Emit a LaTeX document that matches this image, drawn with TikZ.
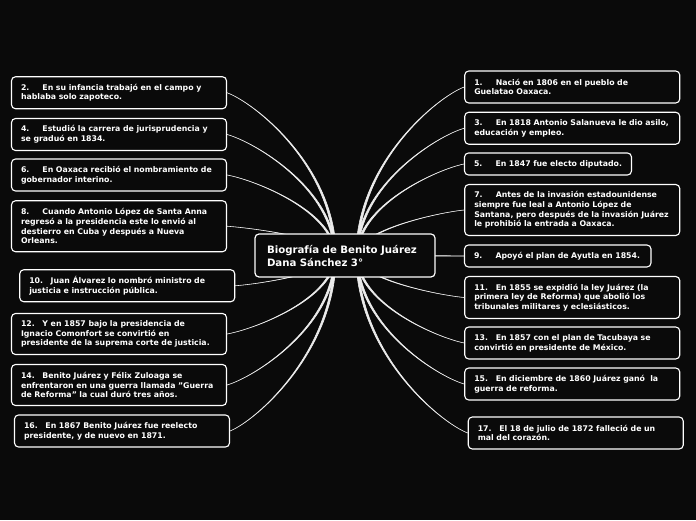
\documentclass[tikz,border=0pt]{standalone}
\usepackage{fontspec}
\setmainfont{DejaVu Sans}
\usepackage{xcolor}
\usepackage{tikz}
\usetikzlibrary{positioning}

\definecolor{bgblack}{HTML}{0A0A0A}
\definecolor{wiregray}{HTML}{EBEBEB}
\newcommand{\nro}[1]{\makebox[21.5pt][l]{#1}}

\tikzset{
	leaf/.style={draw=white, line width=1.1pt, fill=bgblack, rounded corners=4pt, text=white,
		font=\bfseries\fontsize{7.8}{9.7}\selectfont, align=left, inner xsep=9.5pt, inner ysep=0pt,
		text width=196pt, minimum height=32pt},
	title/.style={draw=white, line width=1.2pt, fill=bgblack, rounded corners=4pt, text=white,
		font=\bfseries\fontsize{10.2}{13}\selectfont, align=left, inner xsep=12pt, inner ysep=0pt,
		text width=156pt, minimum height=43pt},
	wire/.style={fill=wiregray, draw=wiregray, line width=0.6pt, line join=round}
}

\begin{document}
\begin{tikzpicture}[x=1pt, y=1pt]
	% Background:
	\fill[bgblack] (0, 0) rectangle (696, 520);
	\useasboundingbox (0, 0) rectangle (696, 520);
	% Left side:
	\node[leaf](N2) at (119, 427.25){\nro{2.}En su infancia trabajó en el campo y\\hablaba solo zapoteco.};
	\node[leaf](N4) at (119, 385.5){\nro{4.}Estudió la carrera de jurisprudencia y\\se graduó en 1834.};
	\node[leaf](N6) at (119, 345){\nro{6.}En Oaxaca recibió el nombramiento de\\gobernador interino.};
	\node[leaf, minimum height=51pt](N8) at (119, 293.75){\nro{8.}Cuando Antonio López de Santa Anna\\regresó a la presidencia este lo envió al\\destierro en Cuba y después a Nueva\\Orleans.};
	\node[leaf](N10) at (127.25, 234.25){\nro{10.}Juan Álvarez lo nombró ministro de\\justicia e instrucción pública.};
	\node[leaf, minimum height=41pt](N12) at (119, 186){\nro{12.}Y en 1857 bajo la presidencia de\\Ignacio Comonfort se convirtió en\\presidente de la suprema corte de justicia.};
	\node[leaf, minimum height=41pt](N14) at (119, 135){\nro{14.}Benito Juárez y Félix Zuloaga se\\enfrentaron en una guerra llamada "Guerra\\de Reforma" la cual duró tres años.};
	\node[leaf](N16) at (122, 89){\nro{16.}En 1867 Benito Juárez fue reelecto\\presidente, y de nuevo en 1871.};
	% Right side:
	\node[leaf](N1) at (572.25, 433){\nro{1.}Nació en 1806 en el pueblo de\\Guelatao Oaxaca.};
	\node[leaf](N3) at (572.25, 391.75){\nro{3.}En 1818 Antonio Salanueva le dio asilo,\\educación y empleo.};
	\node[leaf, text width=148pt, minimum height=22pt](N5) at (548, 356){\nro{5.}En 1847 fue electo diputado.};
	\node[leaf, minimum height=51pt](N7) at (572.25, 310){\nro{7.}Antes de la invasión estadounidense\\siempre fue leal a Antonio López de\\Santana, pero después de la invasión Juárez\\le prohibió la entrada a Oaxaca.};
	\node[leaf, text width=167.5pt, minimum height=22pt](N9) at (557.75, 264){\nro{9.}Apoyó el plan de Ayutla en 1854.};
	\node[leaf, minimum height=42pt](N11) at (572.25, 222.5){\nro{11.}En 1855 se expidió la ley Juárez (la\\primera ley de Reforma) que abolió los\\tribunales militares y eclesiásticos.};
	\node[leaf](N13) at (572.25, 177){\nro{13.}En 1857 con el plan de Tacubaya se\\convirtió en presidente de México.};
	\node[leaf](N15) at (572.25, 136){\nro{15.}En diciembre de 1860 Juárez ganó\ \ la\\guerra de reforma.};
	\node[leaf](N17) at (575.75, 87){\nro{17.}El 18 de julio de 1872 falleció de un\\mal del corazón.};
	% Wires (tapered):
	\coordinate (BL1) at (333.9, 264.5);
	\coordinate (BL2) at (336.1, 264.5);
	\coordinate (BR1) at (355.9, 264.5);
	\coordinate (BR2) at (358.1, 264.5);
	\filldraw[wire] (BL1) .. controls +(0, 89.5) and +(27, -9.8) .. (N2.east) .. controls +(27, -9.8) and +(0, 89.5) .. (BL2) -- cycle;
	\filldraw[wire] (BL1) .. controls +(0, 66.5) and +(27, -7.3) .. (N4.east) .. controls +(27, -7.3) and +(0, 66.5) .. (BL2) -- cycle;
	\filldraw[wire] (BL1) .. controls +(0, 44.3) and +(27, -4.8) .. (N6.east) .. controls +(27, -4.8) and +(0, 44.3) .. (BL2) -- cycle;
	\filldraw[wire] (BL1) .. controls +(0, 16.1) and +(27, -1.8) .. (N8.east) .. controls +(27, -1.8) and +(0, 16.1) .. (BL2) -- cycle;
	\filldraw[wire] (BL1) .. controls +(0, -16.6) and +(25, 1.8) .. (N10.east) .. controls +(25, 1.8) and +(0, -16.6) .. (BL2) -- cycle;
	\filldraw[wire] (BL1) .. controls +(0, -43.2) and +(27, 4.7) .. (N12.east) .. controls +(27, 4.7) and +(0, -43.2) .. (BL2) -- cycle;
	\filldraw[wire] (BL1) .. controls +(0, -71.2) and +(27, 7.8) .. (N14.east) .. controls +(27, 7.8) and +(0, -71.2) .. (BL2) -- cycle;
	\filldraw[wire] (BL1) .. controls +(0, -96.5) and +(26, 10.5) .. (N16.east) .. controls +(26, 10.5) and +(0, -96.5) .. (BL2) -- cycle;
	\filldraw[wire] (BR1) .. controls +(0, 92.7) and +(-27, -10.1) .. (N1.west) .. controls +(-27, -10.1) and +(0, 92.7) .. (BR2) -- cycle;
	\filldraw[wire] (BR1) .. controls +(0, 70) and +(-27, -7.6) .. (N3.west) .. controls +(-27, -7.6) and +(0, 70) .. (BR2) -- cycle;
	\filldraw[wire] (BR1) .. controls +(0, 50.3) and +(-27, -5.5) .. (N5.west) .. controls +(-27, -5.5) and +(0, 50.3) .. (BR2) -- cycle;
	\filldraw[wire] (BR1) .. controls +(0, 25) and +(-27, -2.7) .. (N7.west) .. controls +(-27, -2.7) and +(0, 25) .. (BR2) -- cycle;
	\filldraw[wire] ([yshift=1.1pt]BR1) -- (N9.west) -- ([yshift=-1.1pt]BR1) -- cycle;
	\filldraw[wire] (BR1) .. controls +(0, -23.1) and +(-27, 2.5) .. (N11.west) .. controls +(-27, 2.5) and +(0, -23.1) .. (BR2) -- cycle;
	\filldraw[wire] (BR1) .. controls +(0, -48.1) and +(-27, 5.3) .. (N13.west) .. controls +(-27, 5.3) and +(0, -48.1) .. (BR2) -- cycle;
	\filldraw[wire] (BR1) .. controls +(0, -70.7) and +(-27, 7.7) .. (N15.west) .. controls +(-27, 7.7) and +(0, -70.7) .. (BR2) -- cycle;
	\filldraw[wire] (BR1) .. controls +(0, -97.6) and +(-28, 10.7) .. (N17.west) .. controls +(-28, 10.7) and +(0, -97.6) .. (BR2) -- cycle;
	% Central topic:
	\node[title](Bio) at (345, 264.5){Biografía de Benito Juárez\\Dana Sánchez 3°};
\end{tikzpicture}
\end{document}
